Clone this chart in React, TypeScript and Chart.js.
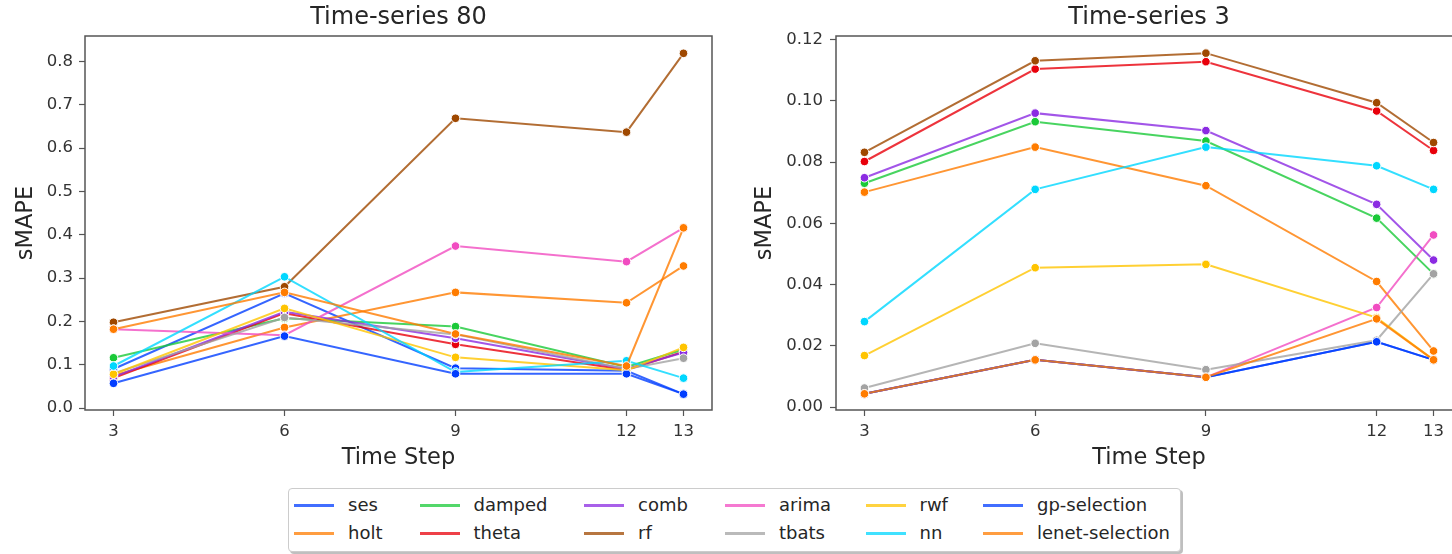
import React, { useEffect, useRef } from 'react';
import { Chart, registerables } from 'chart.js';

Chart.register(...registerables);

const FONT = "'DejaVu Sans', sans-serif";

const timeSteps = [3, 6, 9, 12, 13];
const methods = ['ses', 'holt', 'damped', 'theta', 'comb', 'rf', 'arima', 'tbats', 'rwf', 'nn', 'gp-selection', 'lenet-selection'];
const colors = ['#023eff', '#ff7c00', '#1ac938', '#e8000b', '#8b2be2', '#9f4800', '#f14cc1', '#a3a3a3', '#ffc400', '#00d7ff', '#023eff', '#ff7c00'];

// Time-series 80
const ts80Ses = [0.090, 0.265, 0.092, 0.086, 0.032];
const ts80Holt = [0.075, 0.186, 0.267, 0.243, 0.328];
const ts80Damped = [0.116, 0.207, 0.188, 0.095, 0.135];
const ts80Theta = [0.069, 0.219, 0.147, 0.088, 0.130];
const ts80Comb = [0.072, 0.222, 0.161, 0.090, 0.128];
const ts80Rf = [0.198, 0.280, 0.669, 0.637, 0.819];
const ts80Arima = [0.182, 0.168, 0.374, 0.338, 0.416];
const ts80Tbats = [0.080, 0.209, 0.170, 0.090, 0.115];
const ts80Rwf = [0.078, 0.230, 0.117, 0.087, 0.140];
const ts80Nn = [0.097, 0.303, 0.083, 0.109, 0.069];
const ts80Gp = [0.057, 0.166, 0.079, 0.079, 0.032];
const ts80Lenet = [0.182, 0.267, 0.171, 0.097, 0.416];
const ts80Ticks = [0, 0.1, 0.2, 0.3, 0.4, 0.5, 0.6, 0.7, 0.8];

// Time-series 3
const ts3Ses = [0.0043, 0.0154, 0.0097, 0.0213, 0.0154];
const ts3Holt = [0.0702, 0.0849, 0.0723, 0.0410, 0.0183];
const ts3Damped = [0.0731, 0.0932, 0.0869, 0.0617, 0.0435];
const ts3Theta = [0.0802, 0.1104, 0.1128, 0.0967, 0.0838];
const ts3Comb = [0.0749, 0.0960, 0.0903, 0.0662, 0.0480];
const ts3Rf = [0.0832, 0.1131, 0.1156, 0.0994, 0.0864];
const ts3Arima = [0.0043, 0.0154, 0.0097, 0.0325, 0.0562];
const ts3Tbats = [0.0062, 0.0208, 0.0122, 0.0218, 0.0435];
const ts3Rwf = [0.0168, 0.0455, 0.0466, 0.0292, 0.0154];
const ts3Nn = [0.0279, 0.0711, 0.0849, 0.0788, 0.0711];
const ts3Gp = [0.0043, 0.0154, 0.0097, 0.0213, 0.0154];
const ts3Lenet = [0.0043, 0.0154, 0.0097, 0.0288, 0.0154];
const ts3Ticks = [0, 0.02, 0.04, 0.06, 0.08, 0.10, 0.12];

const ts80Series = [ts80Ses, ts80Holt, ts80Damped, ts80Theta, ts80Comb, ts80Rf, ts80Arima, ts80Tbats, ts80Rwf, ts80Nn, ts80Gp, ts80Lenet];
const ts3Series = [ts3Ses, ts3Holt, ts3Damped, ts3Theta, ts3Comb, ts3Rf, ts3Arima, ts3Tbats, ts3Rwf, ts3Nn, ts3Gp, ts3Lenet];

function rgba(hex: string, a: number) {
  const n = parseInt(hex.slice(1), 16);
  return `rgba(${(n >> 16) & 255},${(n >> 8) & 255},${n & 255},${a})`;
}

const boxPlugin = {
  id: 'box',
  afterDatasetsDraw(chart: any) {
    const { ctx, chartArea: a } = chart;
    ctx.save();
    ctx.strokeStyle = '#555';
    ctx.lineWidth = 1.5;
    ctx.strokeRect(a.left, a.top, a.right - a.left, a.bottom - a.top);
    ctx.restore();
  },
};

const areaTitlePlugin = {
  id: 'areaTitle',
  afterDraw(chart: any, _args: any, opts: any) {
    const { ctx, chartArea: a } = chart;
    ctx.save();
    ctx.font = `24px ${FONT}`;
    ctx.fillStyle = '#262626';
    ctx.textAlign = 'center';
    ctx.textBaseline = 'middle';
    ctx.fillText(opts.text, (a.left + a.right) / 2, 17.4);
    ctx.restore();
  },
};

type PanelProps = {
  title: string;
  series: number[][];
  yTicks: number[];
  yMin: number;
  yMax: number;
  decimals: number;
  yAxisWidth: number;
  yTitlePad: number;
  yTickPad: number;
};

function Panel(p: PanelProps) {
  const ref = useRef<HTMLCanvasElement>(null);
  useEffect(() => {
    const canvas = ref.current!;
    const chart = new Chart(canvas, {
      type: 'line',
      data: {
        datasets: p.series.map((vals, i) => ({
          label: methods[i],
          data: timeSteps.map((t, j) => ({ x: t, y: vals[j] })),
          borderColor: rgba(colors[i], 0.8),
          backgroundColor: colors[i],
          borderWidth: 2,
          pointRadius: 4.3,
          pointBorderColor: '#ffffff',
          pointBorderWidth: 1,
          pointBackgroundColor: colors[i],
          tension: 0,
          order: methods.length - i,
        })),
      },
      options: {
        animation: false,
        responsive: false,
        devicePixelRatio: 1,
        layout: { padding: { left: 0, right: 18, top: 36, bottom: 0 } },
        plugins: {
          legend: { display: false },
          tooltip: { enabled: false },
          title: { display: false },
          areaTitle: { text: p.title },
        },
        scales: {
          x: {
            type: 'linear',
            min: 2.5,
            max: 13.5,
            afterFit: (s: any) => { s.height = 70; },
            afterBuildTicks: (s: any) => { s.ticks = timeSteps.map((v) => ({ value: v })); },
            grid: { display: true, drawOnChartArea: false, drawTicks: true, tickLength: 6, color: '#555', tickWidth: 1.2 },
            border: { display: false },
            ticks: {
              color: '#333',
              font: { family: FONT, size: 16.5 },
              padding: 6,
              maxRotation: 0,
              autoSkip: false,
              callback: (v: any) => String(v),
            },
            title: {
              display: true,
              text: 'Time Step',
              color: '#262626',
              font: { family: FONT, size: 22.5 },
              padding: { top: 0, bottom: 8 },
            },
          },
          y: {
            type: 'linear',
            min: p.yMin,
            max: p.yMax,
            afterFit: (s: any) => { s.width = p.yAxisWidth; },
            afterBuildTicks: (s: any) => { s.ticks = p.yTicks.map((v) => ({ value: v })); },
            grid: { display: true, drawOnChartArea: false, drawTicks: true, tickLength: 6, color: '#555', tickWidth: 1.2 },
            border: { display: false },
            ticks: {
              color: '#333',
              font: { family: FONT, size: 16.5 },
              padding: p.yTickPad,
              autoSkip: false,
              callback: (v: any) => Number(v).toFixed(p.decimals),
            },
            title: {
              display: true,
              text: 'sMAPE',
              color: '#262626',
              font: { family: FONT, size: 22.5 },
              padding: { top: p.yTitlePad, bottom: 0 },
            },
          },
        },
      },
      plugins: [boxPlugin, areaTitlePlugin],
    } as any);
    return () => chart.destroy();
  }, []);
  return <canvas ref={ref} width={730} height={480} style={{ display: 'block' }} />;
}

const legendHandleX = [294, 419.5, 584, 725, 865.5, 983];
const legendRowY = [505, 533];

export default function App() {
  return (
    <div style={{ position: 'absolute', left: 0, top: 0, width: 1452, height: 554, overflow: 'hidden', background: '#fff', fontFamily: FONT }}>
      <div style={{ position: 'absolute', left: 0, top: 0, width: 730, height: 480 }}>
        <Panel title="Time-series 80" series={ts80Series} yTicks={ts80Ticks} yMin={-0.0046} yMax={0.859} decimals={1} yAxisWidth={85} yTitlePad={12.5} yTickPad={6} />
      </div>
      <div style={{ position: 'absolute', left: 750, top: 0, width: 702, height: 480, overflow: 'hidden' }}>
        <Panel title="Time-series 3" series={ts3Series} yTicks={ts3Ticks} yMin={-0.00098} yMax={0.1212} decimals={2} yAxisWidth={86} yTitlePad={1.5} yTickPad={7} />
      </div>
      <div style={{ position: 'absolute', left: 288, top: 488, width: 893, height: 64, border: '1px solid #cccccc', borderRadius: 4, boxSizing: 'border-box', background: '#fff', boxShadow: '2px 2px 0 rgba(0,0,0,0.25)' }} />
      {methods.map((m, i) => {
        const col = Math.floor(i / 2);
        const row = i % 2;
        const hx = legendHandleX[col];
        const cy = legendRowY[row];
        return (
          <React.Fragment key={m}>
            <div style={{ position: 'absolute', left: hx, top: cy - 1.5, width: 40, height: 3, background: rgba(colors[i], 0.75) }} />
            <div style={{ position: 'absolute', left: hx + 54, top: cy - 12, height: 24, lineHeight: '24px', fontSize: 18, color: '#262626', whiteSpace: 'nowrap' }}>{m}</div>
          </React.Fragment>
        );
      })}
    </div>
  );
}
